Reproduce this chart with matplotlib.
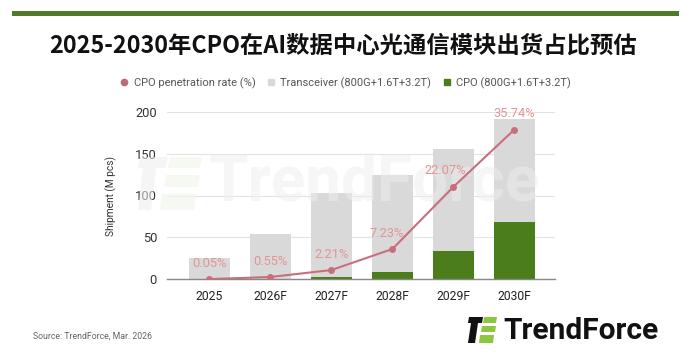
import matplotlib
matplotlib.use("Agg")
import matplotlib.pyplot as plt
from matplotlib.lines import Line2D
from matplotlib.patches import Polygon, Rectangle
import numpy as np

years = ["2025", "2026F", "2027F", "2028F", "2029F", "2030F"]
total_shipment = [25, 53.5, 103, 125, 155, 191]        # Transceiver + CPO (M pcs)
cpo_shipment = [0.01, 0.3, 2.3, 9, 34, 68]              # CPO (M pcs)
penetration = [0.05, 0.55, 2.21, 7.23, 22.07, 35.74]    # CPO penetration rate (%)
pen_labels = ["0.05%", "0.55%", "2.21%", "7.23%", "22.07%", "35.74%"]
yticks = [0, 50, 100, 150, 200]

title = "2025-2030年CPO在AI数据中心光通信模块出货占比预估"
legend_labels = ["CPO penetration rate (%)", "Transceiver (800G+1.6T+3.2T)", "CPO (800G+1.6T+3.2T)"]

GRAY = "#d9d9d9"
GREEN = "#4b7d1a"
LINE = "#c7707c"
LABEL = "#e39494"
BAND = "#4e7a2c"

W, H = 687, 357
fig = plt.figure(figsize=(W / 100, H / 100), dpi=100)
fig.patch.set_facecolor("white")

# overlay in pixel coords for decorations
deco = fig.add_axes([0, 0, 1, 1], zorder=0)
deco.set_xlim(0, W)
deco.set_ylim(H, 0)
deco.axis("off")
deco.add_patch(Rectangle((12, 11), 667, 5, color=BAND, lw=0))

fig.text(343.5 / W, 1 - 46 / H, title, ha="center", va="center", fontsize=16.8,
         fontweight="bold", family=["Noto Sans CJK SC", "DejaVu Sans"], color="#111111")

# main axes
ax = fig.add_axes([166.7 / W, 1 - 279.3 / H, 388.3 / W, 167.6 / H], zorder=2)
x = np.arange(len(years))
ax.bar(x, total_shipment, width=0.668, color=GRAY, zorder=2)
ax.bar(x, cpo_shipment, width=0.668, color=GREEN, zorder=3)
ax.set_xlim(-0.70, 5.665)
ax.set_ylim(0, 200)
ax.set_yticks(yticks)
ax.set_yticklabels([str(v) for v in yticks], fontsize=9.3, family="Roboto", color="#333333")
ax.set_xticks(x)
ax.set_xticklabels(years, fontsize=8.7, family="Roboto", color="#222222")
ax.tick_params(axis="both", length=0)
ax.tick_params(axis="y", pad=7)
ax.tick_params(axis="x", pad=8)
for s in ["top", "right", "left"]:
    ax.spines[s].set_visible(False)
ax.spines["bottom"].set_color("#888888")
ax.spines["bottom"].set_linewidth(1.0)
ax.spines["bottom"].set_zorder(5)
ax.grid(axis="y", color="#e3e3e3", lw=0.8, zorder=0)
ax.set_axisbelow(True)
ax.set_ylabel("Shipment (M pcs)", fontsize=7.3, family="Roboto", color="#333333")
ax.yaxis.set_label_coords(-50 / 388.3, 0.5)

# faint watermark (logo) in pixel coords
wm = fig.add_axes([0, 0, 1, 1], zorder=2.5)
wm.set_xlim(0, W)
wm.set_ylim(H, 0)
wm.axis("off")
wm.patch.set_alpha(0)
wcol = "#eeeeee"
wm.add_patch(Polygon([(140, 157), (168, 157), (166, 168), (138, 168)], color=wcol, alpha=0.55, lw=0))
wm.add_patch(Polygon([(143, 168), (156, 168), (151, 210), (138, 210)], color=wcol, alpha=0.55, lw=0))
wm.add_patch(Polygon([(170, 157), (202, 157), (200, 168), (168, 168)], color="#f1f6ea", alpha=0.6, lw=0))
wm.add_patch(Polygon([(166, 175), (200, 175), (198, 187), (164, 187)], color="#f1f6ea", alpha=0.6, lw=0))
wm.add_patch(Polygon([(162, 194), (196, 194), (194, 210), (160, 210)], color="#f1f6ea", alpha=0.6, lw=0))
wm.text(374, 183, "TrendForce", ha="center", va="center", fontsize=46, fontweight="bold",
        family="Roboto", color=wcol, alpha=0.5)

# penetration line on twin axis
ax2 = ax.twinx()
ax2.set_zorder(3)
ax2.set_ylim(0, 40)
ax2.axis("off")
ax2.plot(x, penetration, color=LINE, lw=1.5, marker="o", markersize=4, zorder=6)
dx = [0, 0, 0, -6, -8, 0]
for xi, p, lab, d in zip(x, penetration, pen_labels, dx):
    ax2.annotate(lab, (xi, p), xytext=(d * 0.72, 11.5), textcoords="offset points",
                 ha="center", va="center", fontsize=9.3, family="Roboto", color=LABEL,
                 annotation_clip=False)

# legend
handles = [
    Line2D([], [], ls="none", marker="o", markersize=4.5, color="#b96b79"),
    Line2D([], [], ls="none", marker="s", markersize=5, color=GRAY),
    Line2D([], [], ls="none", marker="s", markersize=5, color=GREEN),
]
leg = fig.legend(handles, legend_labels, loc="center", bbox_to_anchor=(346 / W, 1 - 83 / H),
                 ncol=3, frameon=False, handlelength=0.6, handletextpad=0.55,
                 columnspacing=1.1, prop={"family": "Roboto", "size": 8.0})
for t in leg.get_texts():
    t.set_color("#555555")

# source
fig.text(33 / W, 1 - 336 / H, "Source: TrendForce, Mar. 2026", ha="left", va="center",
         fontsize=6.3, family="Roboto", color="#666666")

# logo
logo = fig.add_axes([0, 0, 1, 1], zorder=4)
logo.set_xlim(0, W)
logo.set_ylim(H, 0)
logo.axis("off")
logo.patch.set_alpha(0)
logo.add_patch(Polygon([(469, 317), (483, 317), (482, 323), (468, 323)], color="#111111", lw=0))
logo.add_patch(Polygon([(471, 323), (478, 323), (475, 343), (468, 343)], color="#111111", lw=0))
logo.add_patch(Polygon([(484, 317), (497, 317), (496, 323), (483, 323)], color="#8dc63f", lw=0))
logo.add_patch(Polygon([(482, 326), (496, 326), (495, 332), (481, 332)], color="#8dc63f", lw=0))
logo.add_patch(Polygon([(480, 335), (494, 335), (493, 343), (479, 343)], color="#8dc63f", lw=0))
logo.text(503, 331, "TrendForce", ha="left", va="center", fontsize=21.5, fontweight="bold",
          family="Roboto", color="#111111")

fig.savefig("out.png", dpi=100, facecolor="white")
